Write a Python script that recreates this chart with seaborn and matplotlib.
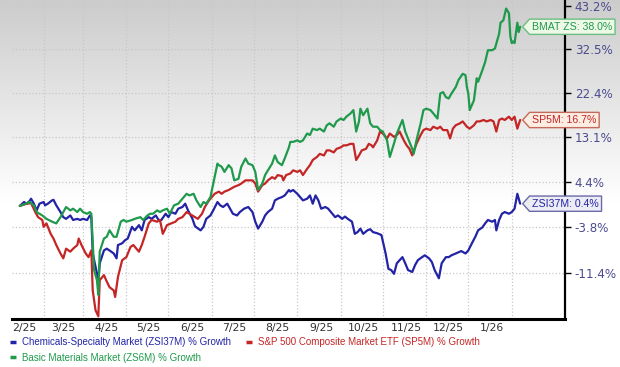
import numpy as np
import pandas as pd
import seaborn as sns
import matplotlib.pyplot as plt
from matplotlib.lines import Line2D
from matplotlib.path import Path

sns.set_style("white")
plt.rcParams["font.family"] = ["Liberation Sans", "DejaVu Sans"]

# (days after 2025-02-01, % growth)
chem = [(-3, 0.0), (0, 0.7), (2, 0.4), (4, 0.9), (5, 1.3), (7, 0.4), (9, -0.8), (11, 0.4), (14, 0.7), (15, 0.1),
        (17, 0.4), (20, 1.0), (21, 1.1), (23, 0.1), (26, -1.1), (28, -2.0), (30, -2.3), (33, -1.7), (35, -2.5),
        (38, -2.3), (40, -2.5), (42, -2.3), (45, -2.5), (47, -1.7), (48, -2.0), (49, -8.2), (52, -11.4),
        (53, -12.8), (54, -9.8), (57, -7.7), (59, -7.4), (61, -7.7), (64, -8.2), (66, -9.0), (67, -6.8),
        (70, -6.5), (72, -6.0), (74, -5.7), (77, -3.7), (79, -4.3), (82, -3.4), (84, -4.3), (86, -2.5),
        (89, -2.0), (91, -2.3), (94, -1.7), (96, -2.5), (98, -2.5), (101, -1.4), (103, -2.0), (105, -1.1),
        (108, -1.4), (110, -0.5), (113, -0.2), (115, 0.4), (117, -0.8), (120, -2.2), (122, -3.6), (126, -4.3),
        (128, -3.7), (130, -2.3), (133, -1.7), (135, -0.8), (138, 0.7), (140, 0.1), (142, -0.2), (145, 0.4),
        (147, -0.5), (149, -1.4), (152, -1.7), (154, -1.1), (157, -0.5), (160, -0.2), (163, -1.1), (165, -2.8),
        (167, -4.0), (170, -2.8), (172, -1.7), (174, -1.1), (177, -0.5), (179, 1.0), (181, 1.3), (184, 1.6),
        (186, 1.9), (189, 2.9), (190, 2.6), (192, 2.9), (195, 2.2), (197, 1.6), (199, 1.0), (202, 1.3),
        (204, 1.9), (206, 0.4), (208, 1.9), (210, 1.0), (212, -0.5), (215, -0.2), (217, -0.5), (220, -1.4),
        (222, -2.0), (224, -1.7), (227, -2.3), (229, -1.9), (231, -2.3), (234, -2.8), (236, -4.9), (238, -4.6),
        (240, -4.0), (242, -4.9), (245, -4.3), (247, -4.1), (249, -4.6), (252, -4.8), (255, -5.1), (258, -8.2),
        (260, -10.7), (262, -10.9), (264, -11.5), (266, -9.8), (270, -8.8), (272, -9.8), (274, -10.9),
        (277, -11.2), (279, -10.1), (281, -9.3), (284, -8.8), (286, -8.5), (289, -9.0), (291, -9.6),
        (293, -10.9), (296, -12.2), (298, -9.8), (301, -8.8), (303, -8.8), (305, -8.5), (308, -8.2),
        (310, -8.0), (312, -7.8), (315, -8.2), (317, -7.7), (320, -6.3), (322, -5.4), (324, -4.3), (327, -3.8),
        (329, -3.1), (331, -2.5), (334, -2.8), (336, -2.5), (337, -4.3), (339, -2.5), (341, -1.4), (343, -1.1),
        (346, -1.4), (348, -1.1), (350, -0.5), (352, 2.2), (354, 0.4)]

sp5 = [(-3, 0.0), (2, 0.4), (5, 0.5), (8, -1.1), (10, -2.0), (13, -2.5), (14, -3.7), (16, -3.1), (19, -4.9),
       (21, -5.7), (23, -6.8), (26, -8.2), (28, -9.0), (30, -7.4), (33, -7.9), (35, -7.4), (38, -6.8),
       (39, -5.7), (41, -6.8), (44, -8.2), (46, -8.8), (48, -7.7), (49, -14.1), (51, -17.1), (53, -18.0),
       (54, -12.5), (57, -11.7), (59, -12.7), (61, -13.6), (64, -14.1), (65, -15.1), (67, -12.0), (70, -9.3),
       (73, -8.8), (76, -7.1), (78, -6.8), (82, -7.9), (84, -6.8), (86, -5.4), (89, -3.1), (91, -2.5),
       (95, -2.8), (97, -2.5), (99, -4.9), (102, -3.4), (105, -3.1), (108, -2.8), (110, -2.3), (113, -2.0),
       (116, -1.1), (118, -1.4), (122, -2.0), (124, -2.3), (127, -1.4), (129, -0.2), (132, 1.0), (134, 1.6),
       (136, 2.2), (139, 2.6), (141, 2.2), (143, 2.6), (146, 2.9), (148, 3.2), (150, 3.5), (153, 3.8),
       (155, 4.1), (158, 4.7), (160, 4.7), (163, 4.7), (165, 4.1), (167, 2.6), (170, 3.8), (172, 4.1),
       (174, 4.7), (177, 5.3), (179, 5.0), (181, 5.7), (184, 5.5), (185, 4.7), (187, 5.7), (190, 6.0),
       (192, 6.6), (195, 6.3), (197, 6.6), (199, 5.7), (202, 6.9), (204, 7.6), (206, 8.6), (209, 9.2),
       (211, 9.8), (214, 9.5), (216, 10.5), (218, 10.5), (221, 10.1), (223, 10.8), (226, 11.1), (228, 11.5),
       (230, 11.5), (233, 11.8), (235, 11.8), (237, 8.6), (239, 9.5), (241, 10.5), (244, 10.8), (246, 11.8),
       (248, 11.5), (249, 11.1), (252, 12.5), (254, 14.3), (256, 13.9), (259, 12.9), (261, 13.9), (264, 13.2),
       (266, 13.6), (268, 14.3), (271, 12.5), (273, 11.5), (275, 10.8), (277, 9.5), (280, 11.8), (283, 13.6),
       (285, 14.6), (287, 14.9), (290, 14.6), (292, 15.3), (295, 14.9), (297, 15.3), (299, 14.6), (302, 14.6),
       (304, 12.9), (306, 14.9), (308, 15.6), (311, 16.0), (313, 16.4), (316, 15.3), (318, 14.9), (321, 15.6),
       (323, 16.4), (325, 16.4), (328, 16.7), (330, 16.4), (333, 16.7), (335, 16.4), (337, 14.3), (339, 16.7),
       (341, 17.0), (343, 16.7), (346, 17.4), (348, 16.7), (350, 17.4), (352, 14.9), (354, 16.7)]

basic = [(-3, 0.0), (1, 0.4), (4, 0.7), (7, 0.1), (9, -1.1), (13, -1.7), (16, -2.3), (20, -2.8), (23, -3.1),
         (26, -2.0), (28, -1.1), (30, -0.2), (33, -0.8), (35, -0.5), (38, -1.1), (40, -0.5), (42, -1.1),
         (45, -1.4), (47, -1.1), (48, -1.4), (50, -10.9), (52, -12.5), (53, -14.8), (54, -7.9), (57, -5.7),
         (59, -5.4), (61, -4.3), (64, -5.4), (66, -5.4), (69, -2.8), (71, -2.5), (73, -2.8), (77, -2.5),
         (79, -2.3), (83, -2.0), (85, -2.5), (88, -1.7), (90, -1.4), (92, -1.4), (95, -0.8), (97, -1.1),
         (99, -0.8), (102, -0.5), (104, -1.4), (107, 0.1), (110, 0.4), (114, 1.6), (116, 2.2), (118, 1.9),
         (121, 2.2), (123, 1.0), (126, -0.2), (128, 0.7), (130, 0.4), (133, 1.6), (135, 4.1), (138, 7.9),
         (139, 7.6), (141, 7.3), (143, 6.3), (146, 7.6), (148, 7.0), (150, 4.7), (153, 5.0), (155, 7.3),
         (158, 8.9), (160, 7.9), (163, 7.6), (165, 6.3), (167, 2.9), (170, 4.1), (172, 5.7), (174, 6.6),
         (177, 7.9), (179, 9.5), (181, 8.2), (184, 7.6), (186, 8.9), (189, 11.1), (190, 12.2), (192, 12.2),
         (195, 12.5), (197, 12.2), (199, 12.5), (202, 13.9), (204, 13.6), (206, 14.9), (209, 14.6), (211, 14.9),
         (214, 14.3), (216, 15.6), (218, 16.0), (221, 15.3), (223, 16.4), (226, 17.0), (228, 16.7), (230, 17.4),
         (233, 18.1), (235, 18.8), (237, 14.3), (239, 16.4), (240, 19.1), (242, 17.7), (245, 19.1), (247, 16.0),
         (249, 15.3), (252, 15.3), (254, 14.6), (256, 14.3), (259, 12.5), (261, 9.2), (264, 11.9), (266, 13.9),
         (270, 16.7), (272, 14.3), (274, 12.9), (277, 10.8), (278, 9.8), (280, 12.5), (283, 16.0), (285, 18.8),
         (287, 19.1), (290, 18.8), (292, 18.1), (295, 17.0), (297, 22.4), (299, 22.7), (301, 21.6), (303, 21.3),
         (305, 22.4), (308, 23.8), (310, 25.4), (313, 26.8), (315, 26.5), (316, 23.8), (317, 22.4), (318, 18.8),
         (321, 20.9), (323, 25.8), (324, 25.0), (327, 27.6), (329, 29.5), (331, 32.3), (334, 32.3), (336, 32.7),
         (339, 36.3), (340, 39.0), (342, 39.6), (344, 42.6), (346, 41.4), (347, 35.6), (348, 34.0), (349, 34.4),
         (350, 34.0), (352, 39.0), (353, 36.7), (354, 38.0)]

series_names = ["Chemicals-Specialty Market (ZSI37M) % Growth",
                "S&P 500 Composite Market ETF (SP5M) % Growth",
                "Basic Materials Market (ZS6M) % Growth"]
tags = ["ZSI37M", "SP5M", "BMAT ZS"]
colors = ["#2323a6", "#c42525", "#1f9a4c"]
tag_fills = ["#ececf4", "#fcece2", "#eef8e6"]
tag_edges = ["#6a6aa8", "#c46a5a", "#6abf80"]

month_labels = ["2/25", "3/25", "4/25", "5/25", "6/25", "7/25", "8/25", "9/25", "10/25", "11/25", "12/25", "1/26"]
ytick_vals = [43.2, 32.5, 22.4, 13.1, 4.4, -3.8, -11.4]

start = pd.Timestamp("2025-02-01")
frames = []
for name, pts in zip(series_names, [chem, sp5, basic]):
    d = pd.DataFrame(pts, columns=["day", "growth"])
    d["date"] = start + pd.to_timedelta(d["day"], unit="D")
    d["series"] = name
    frames.append(d)
df = pd.concat(frames, ignore_index=True)

fig = plt.figure(figsize=(6.2, 3.67), dpi=100)

# grey fade at the top of the picture
bg = fig.add_axes([0, 0, 1, 1], zorder=-10)
grad = np.linspace(0, 1, 367)
shade = np.clip(0.80 + 0.20 * (grad / 0.55), 0, 1)
img = np.repeat(shade[:, None], 2, axis=1)
bg.imshow(np.dstack([img, img, img]), aspect="auto", extent=[0, 1, 0, 1], origin="upper")
bg.axis("off")

ax = fig.add_axes([12 / 620, 48 / 367, 553 / 620, 319 / 367])
ax.set_facecolor("none")

sns.lineplot(data=df, x="date", y="growth", hue="series", hue_order=series_names,
             palette=colors, linewidth=1.6, estimator=None, sort=False, legend=False, ax=ax)

ax.set_yscale("function", functions=(lambda g: np.log1p(np.asarray(g) / 100.0),
                                     lambda y: np.expm1(np.asarray(y)) * 100.0))
ax.set_ylim(-18.4, 44.8)
ax.set_xlim(start - pd.Timedelta(days=8.6), start + pd.Timedelta(days=386))

ax.yaxis.tick_right()
ax.set_yticks(ytick_vals)
ax.set_yticklabels([f"{v}%" for v in ytick_vals], family="DejaVu Sans")
ax.tick_params(axis="y", direction="out", length=4, width=1, color="black", pad=3,
               labelsize=8.6, labelcolor="#4b4b8e")

month_starts = pd.date_range("2025-02-01", periods=12, freq="MS")
month_mids = month_starts + pd.Timedelta(days=14)
ax.set_xticks(month_starts)
ax.set_xticklabels(month_labels, family="DejaVu Sans")
ax.set_xticks(month_mids, minor=True)
ax.tick_params(axis="x", which="both", length=0, pad=3, labelsize=7.8, labelcolor="#333333")

ax.grid(False)
ax.grid(axis="y", which="major", color="#c8c8c8", linestyle=":", linewidth=0.9)
ax.grid(axis="x", which="minor", color="#c8c8c8", linestyle=":", linewidth=0.9)
ax.set_xlabel("")
ax.set_ylabel("")

for s in ["left", "top"]:
    ax.spines[s].set_visible(False)
ax.spines["right"].set_color("black")
ax.spines["right"].set_linewidth(1.6)
ax.spines["bottom"].set_color("black")
ax.spines["bottom"].set_linewidth(2.2)


def tag_box(x0, y0, width, height, mutation_size):
    pad = 0.25 * mutation_size
    x0, y0 = x0 - pad, y0 - pad
    x1, y1 = x0 + width + 2 * pad, y0 + height + 2 * pad
    ym = (y0 + y1) / 2
    tip = 0.45 * (y1 - y0)
    verts = [(x0 - tip, ym), (x0, y1), (x1, y1), (x1, y0), (x0, y0), (x0 - tip, ym)]
    return Path(verts, [Path.MOVETO] + [Path.LINETO] * 4 + [Path.CLOSEPOLY])


for name, tag, c, fc, ec in zip(series_names, tags, colors, tag_fills, tag_edges):
    last = df[df["series"] == name].iloc[-1]
    ax.annotate(f"{tag}: {last['growth']:.1f}%", xy=(last["date"], last["growth"]),
                xytext=(12, 0), textcoords="offset pixels", va="center", ha="left",
                fontsize=7.6, color=c, annotation_clip=False, zorder=5,
                bbox=dict(boxstyle=tag_box, fc=fc, ec=ec, lw=1.0))

handles = [Line2D([0], [0], color=c, lw=2.5, solid_capstyle="butt") for c in colors]
order = [0, 2, 1]
fig.legend([handles[i] for i in order], [series_names[i] for i in order],
           loc="upper left", bbox_to_anchor=(10 / 620, 1 - 337 / 367), ncol=2, frameon=False,
           fontsize=7, handlelength=0.6, handletextpad=0.6, columnspacing=1.6, labelspacing=0.6,
           borderpad=0, borderaxespad=0, labelcolor="linecolor")

fig.savefig("out.png", dpi=100)
